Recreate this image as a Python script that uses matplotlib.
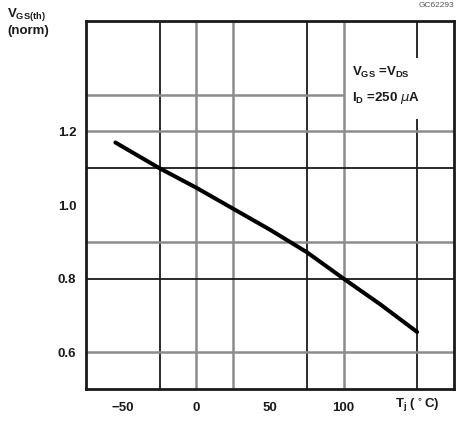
import numpy as np
import matplotlib
matplotlib.use("Agg")
from matplotlib import pyplot as plt

# junction temperature (degC) and normalised gate threshold voltage
tj = [-55, -25, 0, 25, 50, 75, 100, 125, 150]
vgs_norm = [1.17, 1.10, 1.047, 0.99, 0.933, 0.872, 0.80, 0.73, 0.655]

xticks = [-50, 0, 50, 100]
xticklabels = ["\u221250", "0", "50", "100"]
yticks = [0.6, 0.8, 1.0, 1.2]
yticklabels = ["0.6", "0.8", "1.0", "1.2"]

plt.rcParams['font.family'] = ['Liberation Sans', 'DejaVu Sans']

fig = plt.figure(figsize=(4.67, 4.21), dpi=100)
ax = fig.add_axes([0.184, 0.076, 0.788, 0.874])
ax.set_xlim(-75, 175)
ax.set_ylim(0.5, 1.5)

dark = "#1a1a1a"
grey = "#8c8c8c"

# grid, drawn by hand as in the datasheet
for x in [-25, 75]:
	ax.axvline(x, color=dark, lw=1.3, zorder=1)
for x in [0, 25, 100]:
	ax.axvline(x, color=grey, lw=1.8, zorder=1)
ax.vlines(150, 0.5, 1.235, color=dark, lw=1.3, zorder=1)
ax.vlines(150, 1.40, 1.5, color=dark, lw=1.3, zorder=1)
for y in [1.1, 0.8]:
	ax.axhline(y, color=dark, lw=1.3, zorder=1)
for y in [1.2, 0.9, 0.6]:
	ax.axhline(y, color=grey, lw=1.8, zorder=1)
ax.hlines(1.3, -75, 100, color=grey, lw=1.8, zorder=1)

ax.plot(tj, vgs_norm, color="black", lw=2.9, solid_capstyle="round", zorder=3)

ax.set_xticks(xticks)
ax.set_xticklabels(xticklabels)
ax.set_yticks(yticks)
ax.set_yticklabels(yticklabels)
ax.tick_params(length=0, labelsize=9.5, colors=dark)
ax.tick_params(axis="x", pad=9)
ax.tick_params(axis="y", pad=7)
for lab in ax.get_xticklabels() + ax.get_yticklabels():
	lab.set_fontweight("bold")

for s in ax.spines.values():
	s.set_linewidth(2.0)
	s.set_color(dark)

fs = 9.5
ax.text(150, -0.045, r"T$_\mathregular{j}$ ($^\circ$C)", ha="center", va="center",
	transform=ax.get_xaxis_transform(), fontsize=fs, fontweight="bold", color=dark)
fig.text(0.015, 0.985, r"V$_\mathregular{GS(th)}$", ha="left", va="top",
	fontsize=fs, fontweight="bold", color=dark)
fig.text(0.015, 0.94, "(norm)", ha="left", va="top",
	fontsize=fs, fontweight="bold", color=dark)
fig.text(0.972, 0.995, "GC62293", ha="right", va="top", fontsize=6, color="#555555")
ax.text(106, 1.36, r"V$_\mathregular{GS}$ =V$_\mathregular{DS}$", ha="left", va="center",
	fontsize=fs, fontweight="bold", color=dark)
ax.text(106, 1.29, r"I$_\mathregular{D}$ =250 $\mu$A", ha="left", va="center",
	fontsize=fs, fontweight="bold", color=dark)

fig.savefig("out.png", dpi=100)
